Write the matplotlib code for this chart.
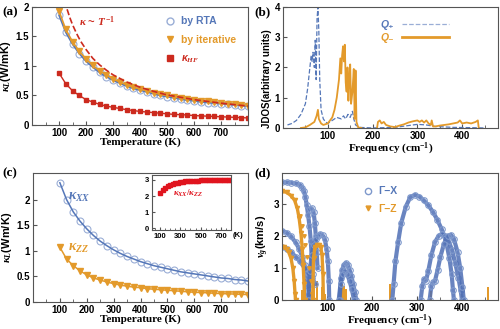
import matplotlib
matplotlib.use("Agg")
import matplotlib.pyplot as plt
from matplotlib.ticker import MultipleLocator
from matplotlib.lines import Line2D

plt.rcParams['font.family'] = ['Liberation Sans', 'DejaVu Sans']
plt.rcParams['font.weight'] = 'bold'
plt.rcParams['mathtext.fontset'] = 'custom'
plt.rcParams['mathtext.it'] = 'Liberation Serif:italic'
plt.rcParams['mathtext.rm'] = 'Liberation Serif'
plt.rcParams['mathtext.bf'] = 'Liberation Serif:bold'

BLUE = '#5577b8'
ORANGE = '#e39a2b'
RED = '#cc2a1e'
SPINE = '#555555'

# ---------- data (a) ----------
temps = [100, 125, 150, 175, 200, 225, 250, 275, 300, 325, 350, 375, 400, 425, 450,
         475, 500, 525, 550, 575, 600, 625, 650, 675, 700, 725, 750, 775, 800]
k_rta = [1.86, 1.57, 1.37, 1.21, 1.08, 0.98, 0.89, 0.82, 0.76, 0.71, 0.66, 0.62, 0.59, 0.56, 0.53,
         0.50, 0.48, 0.46, 0.44, 0.42, 0.41, 0.39, 0.38, 0.37, 0.36, 0.35, 0.34, 0.33, 0.32]
k_iter = [1.93, 1.62, 1.41, 1.25, 1.12, 1.01, 0.92, 0.85, 0.78, 0.73, 0.68, 0.64, 0.61, 0.58, 0.55,
          0.52, 0.50, 0.48, 0.46, 0.44, 0.43, 0.41, 0.40, 0.39, 0.37, 0.36, 0.35, 0.34, 0.33]
k_hf = [0.88, 0.70, 0.58, 0.50, 0.43, 0.39, 0.35, 0.32, 0.30, 0.28, 0.26, 0.245, 0.23, 0.22, 0.21,
        0.20, 0.19, 0.18, 0.175, 0.17, 0.16, 0.155, 0.15, 0.145, 0.14, 0.135, 0.13, 0.125, 0.12]
t_fit = [130, 140, 150, 165, 180, 200, 225, 250, 275, 300, 350, 400, 450, 500, 600, 700, 800]
k_fit = [1.96, 1.82, 1.70, 1.55, 1.42, 1.28, 1.13, 1.02, 0.93, 0.85, 0.73, 0.64, 0.57, 0.51, 0.43, 0.37, 0.32]

# ---------- data (b) ----------
qp_f = [10, 20, 30, 40, 50, 55, 60, 63, 65, 67, 70, 72, 74, 76, 78, 80, 82, 85, 90, 95, 100,
        110, 120, 130, 135, 140, 145, 150, 155, 158, 162, 170, 200, 250, 280, 300, 320, 340, 380, 420, 450]
qp_j = [0.1, 0.15, 0.25, 0.45, 0.8, 1.3, 2.0, 2.4, 2.2, 2.5, 2.0, 2.9, 1.6, 3.6, 4.0, 3.2, 1.6, 0.6, 0.3, 0.2, 0.15,
        0.25, 0.35, 0.3, 0.4, 0.3, 0.45, 0.35, 0.55, 0.3, 0.1, 0.02, 0.0, 0.02, 0.08, 0.12, 0.1, 0.05, 0.02, 0.01, 0.0]
qm_f = [40, 50, 60, 70, 75, 78, 80, 85, 90, 100, 110, 115, 120, 125, 128, 130, 132, 134, 136, 138, 140,
        142, 144, 146, 148, 150, 152, 155, 158, 160, 162, 164, 168, 175]
qm_j = [0.0, 0.02, 0.1, 0.2, 0.4, 0.6, 0.3, 0.15, 0.1, 0.15, 0.35, 0.6, 1.0, 1.6, 2.3, 1.8, 2.4, 2.7, 2.2, 2.75, 1.5,
        1.2, 2.0, 0.9, 1.6, 2.1, 0.8, 1.2, 1.95, 0.3, 1.9, 0.2, 0.02, 0.0]
qm2_f = [210, 212, 216, 220, 225, 230, 240, 250, 260, 270, 280, 290, 300, 305, 310, 315, 320, 325, 330,
         332, 335, 340, 350, 360, 370, 380, 390, 395, 400, 410, 420, 430, 435, 437]
qm2_j = [0.0, 0.2, 0.25, 0.15, 0.2, 0.1, 0.05, 0.03, 0.08, 0.12, 0.18, 0.22, 0.25, 0.2, 0.25, 0.18, 0.25, 0.15, 0.1,
         0.25, 0.05, 0.05, 0.08, 0.1, 0.12, 0.15, 0.18, 0.25, 0.15, 0.18, 0.15, 0.2, 0.25, 0.0]

# ---------- data (c) ----------
k_xx = [2.33, 2.0, 1.76, 1.58, 1.43, 1.30, 1.19, 1.10, 1.02, 0.95, 0.89, 0.84, 0.79, 0.75, 0.71,
        0.68, 0.65, 0.62, 0.59, 0.57, 0.55, 0.53, 0.51, 0.49, 0.47, 0.46, 0.44, 0.43, 0.41]
k_zz = [1.07, 0.84, 0.71, 0.61, 0.53, 0.47, 0.43, 0.39, 0.36, 0.33, 0.31, 0.29, 0.28, 0.26, 0.25,
        0.24, 0.23, 0.22, 0.21, 0.20, 0.19, 0.185, 0.18, 0.17, 0.165, 0.16, 0.155, 0.15, 0.145]
ratio = [2.2, 2.38, 2.5, 2.6, 2.7, 2.76, 2.8, 2.83, 2.86, 2.88, 2.9, 2.92, 2.93, 2.94, 2.95,
         2.96, 2.97, 2.97, 2.98, 2.98, 2.99, 2.99, 3.0, 3.0, 3.0, 3.0, 3.0, 3.0, 3.0]

# ---------- data (d) ----------
gx_la_f = [0, 10, 20, 30, 40, 45, 49, 52, 55, 58, 61, 64, 66, 68]
gx_la_v = [3.66, 3.66, 3.65, 3.63, 3.58, 3.5, 3.38, 3.2, 2.95, 2.65, 2.3, 1.85, 1.3, 0.8]
gx_b2_f = [62, 66, 70, 73, 75, 77, 79]
gx_b2_v = [2.82, 2.85, 2.75, 2.4, 2.0, 1.5, 1.0]
gx_ta1_f = [0, 10, 20, 30, 38, 45, 50, 55, 58, 60, 62]
gx_ta1_v = [2.15, 2.1, 1.98, 1.8, 1.6, 1.35, 1.1, 0.75, 0.45, 0.2, 0.0]
gx_ta2_f = [0, 10, 20, 30, 40, 50, 58, 66, 74]
gx_ta2_v = [1.65, 1.6, 1.5, 1.35, 1.2, 1.0, 0.85, 0.7, 0.5]
gx_o1_f = [58, 62, 66, 70, 75, 80, 85, 90, 95, 99, 102, 104, 105]
gx_o1_v = [0.0, 0.9, 1.4, 1.7, 1.9, 2.0, 2.05, 2.02, 1.9, 1.6, 1.2, 0.6, 0.0]
gx_o2_f = [128, 131, 134, 138, 142, 146, 150, 154, 158, 162, 165]
gx_o2_v = [0.0, 0.7, 0.95, 1.1, 1.15, 1.1, 0.95, 0.75, 0.5, 0.25, 0.0]
gx_o3_f = [126, 130, 135, 140, 145, 150, 155, 160]
gx_o3_v = [0.0, 0.5, 0.8, 0.9, 0.8, 0.6, 0.35, 0.0]
gx_big_f = [245, 248, 252, 258, 265, 275, 285, 295, 305, 315, 325, 335, 345, 355, 365, 372, 377, 380, 382]
gx_big_v = [0.0, 0.5, 1.2, 1.8, 2.4, 2.9, 3.2, 3.27, 3.22, 3.1, 2.95, 2.75, 2.5, 2.2, 1.8, 1.3, 0.8, 0.3, 0.0]
gx_o4_f = [308, 312, 316, 320, 325, 332, 340, 348, 355, 362, 370, 378, 385, 392, 397, 400]
gx_o4_v = [0.0, 0.45, 0.65, 0.6, 0.9, 1.4, 1.8, 2.0, 2.05, 2.0, 1.85, 1.55, 1.15, 0.7, 0.3, 0.0]
gx_o5_f = [328, 332, 336, 340, 346, 352, 360, 368, 375, 382, 390, 396, 401, 404]
gx_o5_v = [0.0, 0.45, 0.55, 0.6, 0.95, 1.35, 1.75, 1.98, 2.03, 1.9, 1.5, 1.0, 0.4, 0.0]

gz_la_f = [0, 10, 20, 28, 34, 38, 42, 45, 47, 49, 50]
gz_la_v = [3.38, 3.35, 3.25, 3.1, 2.85, 2.55, 2.1, 1.6, 1.1, 0.5, 0.0]
gz_sp_f = [40, 44, 48, 52, 56, 60, 64, 67]
gz_sp_v = [2.6, 2.3, 2.0, 1.7, 1.35, 1.0, 0.6, 0.2]
gz_ta_f = [0, 5, 10, 15, 20, 24, 27, 29, 30]
gz_ta_v = [1.65, 1.64, 1.58, 1.48, 1.3, 1.0, 0.6, 0.2, 0.0]
gz_ar_f = [68, 70, 73, 77, 82, 86, 89, 91, 92]
gz_ar_v = [0.0, 1.3, 1.65, 1.72, 1.72, 1.65, 1.4, 0.8, 0.0]
gz_bar_f = [45, 52, 58, 62, 72, 78, 88, 95, 133, 137, 142, 163, 240, 331, 399, 458]
gz_bar_h = [0.3, 0.7, 0.4, 0.9, 0.5, 0.6, 0.4, 0.2, 0.5, 0.45, 0.35, 0.2, 0.5, 0.28, 0.18, 0.42]


def style_axes(ax, xmajor, xminor):
    for s in ax.spines.values():
        s.set_color(SPINE)
        s.set_linewidth(0.8)
    ax.xaxis.set_major_locator(MultipleLocator(xmajor))
    ax.xaxis.set_minor_locator(MultipleLocator(xminor))
    ax.tick_params(which='both', direction='in', labelsize=7, color=SPINE, pad=2)
    ax.tick_params(which='major', length=3)
    ax.tick_params(which='minor', length=2)
    for lab in ax.get_xticklabels() + ax.get_yticklabels():
        lab.set_fontweight('bold')


def serif_xlabel(ax, text):
    ax.set_xlabel(text, family='Liberation Serif', fontweight='bold', fontsize=8, labelpad=0)


fig = plt.figure(figsize=(5.0, 3.29), dpi=100)

# ---------------- (a) ----------------
ax = fig.add_axes([0.064, 0.620, 0.432, 0.359])
ax.plot(temps, k_rta, 'o', mfc='none', mec='#9aaed6', ms=5, mew=0.8)
ax.plot(temps, k_rta, '-', color=BLUE, lw=1.2)
ax.plot(temps, k_iter, 'v', color=ORANGE, ms=4.5)
ax.plot(temps, k_iter, '-', color=ORANGE, lw=1.2)
ax.plot(temps, k_hf, 's-', color=RED, ms=3.5, lw=1.0)
ax.plot(t_fit, k_fit, '--', color=RED, lw=1.2)
ax.text(175, 1.68, r'$\kappa$ ~ $T^{-1}$', color=RED, fontsize=8, fontweight='bold')
ax.set_xlim(0, 800)
ax.set_ylim(0, 2)
ax.set_yticks([0, 0.5, 1, 1.5, 2])
ax.set_yticklabels(['0', '0.5', '1', '1.5', '2'])
style_axes(ax, 100, 50)
ax.set_xticks([100, 200, 300, 400, 500, 600, 700])
serif_xlabel(ax, 'Temperature (K)')
ax.set_ylabel(r'$\kappa_L$(W/mK)', fontsize=8, fontweight='bold', labelpad=2)
hs = [Line2D([], [], ls='none', marker='o', mfc='none', mec='#9aaed6', ms=5),
      Line2D([], [], ls='none', marker='v', color=ORANGE, ms=4.5),
      Line2D([], [], ls='none', marker='s', color=RED, ms=4)]
leg = ax.legend(hs, ['by RTA', 'by iterative', 'κ$_{HF}$'], loc='upper left',
                bbox_to_anchor=(0.57, 1.0), frameon=False, fontsize=7.5,
                labelspacing=0.85, handlelength=1.0, handletextpad=0.6)
for t, c in zip(leg.get_texts(), [BLUE, ORANGE, RED]):
    t.set_color(c)
    t.set_fontweight('bold')
leg.get_texts()[2].set_fontstyle('italic')
fig.text(0.004, 0.955, '(a)', family='Liberation Serif', fontweight='bold', fontsize=9.5)

# ---------------- (b) ----------------
ax = fig.add_axes([0.566, 0.611, 0.430, 0.368])
ax.plot(qp_f, qp_j, '--', color=BLUE, lw=0.9)
ax.plot(qm_f, qm_j, '-', color=ORANGE, lw=1.3)
ax.plot(qm2_f, qm2_j, '-', color=ORANGE, lw=1.3)
ax.set_xlim(0, 480)
ax.set_ylim(0, 4)
ax.set_yticks([0, 1, 2, 3, 4])
style_axes(ax, 100, 50)
ax.set_xticks([100, 200, 300, 400])
serif_xlabel(ax, r'Frequency (cm$^{\mathbf{-1}}$)')
ax.set_ylabel('JDOS(arbitrary units)', fontsize=7, fontweight='bold', labelpad=2, y=0.41)
hs = [Line2D([], [], ls='--', color='#9aaed6', lw=0.9),
      Line2D([], [], ls='-', color=ORANGE, lw=2.0)]
leg = ax.legend(hs, ['Q₊', 'Q₋'], loc='upper left', bbox_to_anchor=(0.41, 0.97),
                frameon=False, fontsize=7.5, markerfirst=False, handlelength=4.5,
                labelspacing=0.3, handletextpad=0.8)
for t, c in zip(leg.get_texts(), [BLUE, ORANGE]):
    t.set_color(c)
    t.set_fontstyle('italic')
fig.text(0.508, 0.955, '(b)', family='Liberation Serif', fontweight='bold', fontsize=9.5)

# ---------------- (c) ----------------
ax = fig.add_axes([0.066, 0.082, 0.430, 0.392])
ax.plot(temps, k_xx, 'o', mfc='none', mec='#9aaed6', ms=5, mew=0.8)
ax.plot(temps, k_xx, '-', color=BLUE, lw=1.1)
ax.plot(temps, k_zz, 'v-', color=ORANGE, ms=4, lw=1.1)
ax.text(130, 2.0, r'$\kappa_{XX}$', color=BLUE, fontsize=10)
ax.text(130, 1.0, r'$\kappa_{ZZ}$', color=ORANGE, fontsize=10)
ax.set_xlim(0, 800)
ax.set_ylim(0, 2.52)
ax.set_yticks([0, 0.5, 1, 1.5, 2])
ax.set_yticklabels(['0', '0.5', '1', '1.5', '2'])
style_axes(ax, 100, 50)
ax.set_xticks([100, 200, 300, 400, 500, 600, 700])
serif_xlabel(ax, 'Temperature (K)')
ax.set_ylabel(r'$\kappa_L$(Wm/K)', fontsize=8, fontweight='bold', labelpad=2)
fig.text(0.004, 0.465, '(c)', family='Liberation Serif', fontweight='bold', fontsize=9.5)

ins = fig.add_axes([0.304, 0.301, 0.158, 0.167])
ins.plot(temps, ratio, 's-', color='#e0141e', ms=3, lw=1.0)
ins.text(230, 2.0, r'$\kappa_{XX}/\kappa_{ZZ}$', color='#e0141e', fontsize=6.5)
ins.set_xlim(20, 800)
ins.set_ylim(-0.1, 3.3)
ins.set_yticks([0, 1, 2, 3])
style_axes(ins, 200, 50)
ins.set_xticks([100, 300, 500, 700])
ins.tick_params(labelsize=5.5, length=2)
ins.tick_params(which='minor', length=1.5)
ins.text(1.02, -0.03, '(K)', transform=ins.transAxes, fontsize=5.5, fontweight='bold', va='top')

# ---------------- (d) ----------------
ax = fig.add_axes([0.564, 0.088, 0.432, 0.386])
blue_branches = [(gx_la_f, gx_la_v), (gx_b2_f, gx_b2_v), (gx_ta1_f, gx_ta1_v), (gx_ta2_f, gx_ta2_v),
                 (gx_o1_f, gx_o1_v), (gx_o2_f, gx_o2_v), (gx_o3_f, gx_o3_v), (gx_big_f, gx_big_v),
                 (gx_o4_f, gx_o4_v), (gx_o5_f, gx_o5_v)]
for f, v in blue_branches:
    ax.plot(f, v, '-', color='#4f6fb5', lw=3.0, alpha=0.85)
    ax.plot(f, v, 'o', mfc='none', mec='#7f99cc', ms=4, mew=0.8)
orange_branches = [(gz_la_f, gz_la_v), (gz_ta_f, gz_ta_v), (gz_ar_f, gz_ar_v)]
for f, v in orange_branches:
    ax.plot(f, v, '-', color=ORANGE, lw=2.4)
    ax.plot(f, v, 'v', color=ORANGE, ms=3)
ax.plot(gz_sp_f, gz_sp_v, 'v', color=ORANGE, ms=2.5)
ax.bar(gz_bar_f, gz_bar_h, width=4, color=ORANGE)
ax.set_xlim(0, 480)
ax.set_ylim(0, 3.95)
ax.set_yticks([0, 1, 2, 3])
style_axes(ax, 100, 50)
ax.set_xticks([100, 200, 300, 400])
serif_xlabel(ax, r'Frequency (cm$^{\mathbf{-1}}$)')
ax.set_ylabel(r'$v_g$(km/s)', fontsize=8, fontweight='bold', labelpad=2)
hs = [Line2D([], [], ls='none', marker='o', mfc='none', mec='#7f99cc', ms=4.5),
      Line2D([], [], ls='none', marker='v', color=ORANGE, ms=3.5)]
leg = ax.legend(hs, ['Γ−X', 'Γ−Z'], loc='upper left', bbox_to_anchor=(0.33, 0.97),
                frameon=False, fontsize=7.5, labelspacing=0.7, handlelength=1.0, handletextpad=0.5)
for t, c in zip(leg.get_texts(), [BLUE, ORANGE]):
    t.set_color(c)
    t.set_fontweight('bold')
fig.text(0.508, 0.465, '(d)', family='Liberation Serif', fontweight='bold', fontsize=9.5)

fig.savefig('out.png', dpi=100)
